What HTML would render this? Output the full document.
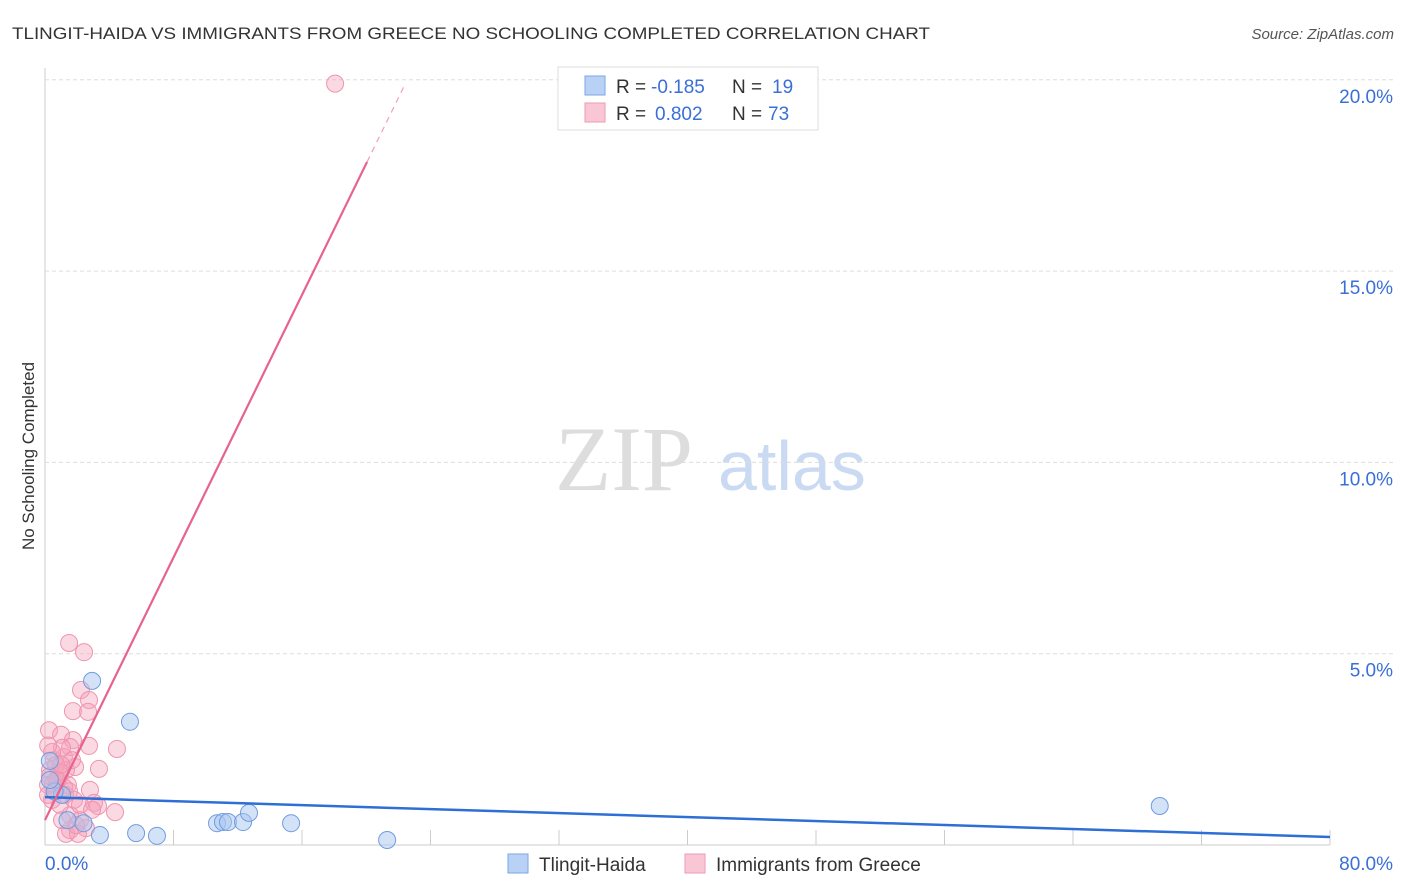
<!DOCTYPE html>
<html><head><meta charset="utf-8"><style>
body{margin:0;background:#fff;font-family:"Liberation Sans",sans-serif}
svg{display:block}
</style></head><body>
<svg width="1406" height="892">
<text x="12" y="39" font-size="17" fill="#333" textLength="918" lengthAdjust="spacingAndGlyphs">TLINGIT-HAIDA VS IMMIGRANTS FROM GREECE NO SCHOOLING COMPLETED CORRELATION CHART</text>
<text x="1394" y="39" font-size="15" fill="#555" font-style="italic" text-anchor="end">Source: ZipAtlas.com</text>
<text x="34" y="456" font-size="17" fill="#333" text-anchor="middle" transform="rotate(-90 34 456)">No Schooling Completed</text>
<text x="555" y="490" font-size="92" fill="#ddd" font-family="Liberation Serif">ZIP</text>
<text x="718" y="490" font-size="70" fill="#c9daf2">atlas</text>
<g id="grid"></g><g id="pts"></g><g id="lines"></g>
<g>
<rect x="558" y="67" width="260" height="63" fill="#fff" stroke="#ddd"/>
<rect x="585" y="76" width="20" height="19" fill="#b9d1f5" stroke="#7aa6e6"/>
<rect x="585" y="103" width="20" height="19" fill="#f8c6d4" stroke="#ef9ab3"/>
<text y="93" font-size="19" fill="#333"><tspan x="616">R =</tspan><tspan x="651" fill="#3a6fd6">-0.185</tspan><tspan x="732">N =</tspan><tspan x="772" fill="#3a6fd6">19</tspan></text>
<text y="120" font-size="19" fill="#333"><tspan x="616">R =</tspan><tspan x="655" fill="#3a6fd6">0.802</tspan><tspan x="732">N =</tspan><tspan x="768" fill="#3a6fd6">73</tspan></text>
</g>
<g>
<rect x="508" y="854" width="20" height="19" fill="#b9d1f5" stroke="#7aa6e6"/>
<text x="539" y="871" font-size="19" fill="#333">Tlingit-Haida</text>
<rect x="685" y="854" width="20" height="19" fill="#f8c6d4" stroke="#ef9ab3"/>
<text x="716" y="871" font-size="19" fill="#333">Immigrants from Greece</text>
</g>
</svg>
<script>
const yTicks=[5,10,15,20];
const xTickLabels=["0.0%","80.0%"];
const blueX=[2.93,5.29,1.06,3.42,5.67,6.97,10.71,11.08,11.39,12.33,12.70,15.32,21.3,69.4,0.3,0.6,1.4,2.4,0.3];
const blueY=[4.29,3.22,1.31,0.26,0.31,0.24,0.57,0.60,0.60,0.60,0.84,0.57,0.13,1.02,2.2,1.4,0.65,0.57,1.7];
const pinkX=[18.06,1.5,2.43,2.24,2.74,1.74,2.68,0.25,4.48,2.74,1.0,1.74,1.56,3.36,0.56,1.18,1.87,0.93,0.31,0.19,0.68,1.25,2.8,3.05,3.3,4.36,1.56,2.18,2.55,1.56,1.31,2.05,0.44,0.81,1.31,1.68,1.06,0.44,0.68,0.19,0.93,1.81,1.43,2.18,2.93,1.93,1.06,0.5,0.9,1.2,0.3,0.7,1.5,0.2,1.0];
const pinkY=[19.9,5.28,5.04,4.05,3.79,3.50,3.48,3.0,2.51,2.59,2.88,2.74,2.56,1.99,2.22,2.30,2.04,1.83,1.96,1.57,1.44,1.31,1.44,1.10,1.02,0.86,0.78,0.65,0.44,0.39,0.29,0.29,1.18,1.70,1.96,2.22,2.54,2.43,2.09,1.31,1.05,1.18,1.57,1.05,0.92,0.52,0.65,1.6,1.9,1.5,1.8,1.7,1.4,2.6,2.1];
const blueLine=[1.25,0.21];
const pinkLine=[0.65,0.858];
const sx=v=>45+v/80*1285, sy=v=>845-v*38.26;
const NS="http://www.w3.org/2000/svg";
function mk(t,a,p){const e=document.createElementNS(NS,t);for(const k in a)e.setAttribute(k,a[k]);p.appendChild(e);return e;}
const g=document.getElementById('grid');
mk('line',{x1:45,y1:68,x2:45,y2:845,stroke:'#ccc'},g);
mk('line',{x1:45,y1:845,x2:1330,y2:845,stroke:'#ccc'},g);
for(let i=1;i<=10;i++){const x=sx(i*8);mk('line',{x1:x,y1:830,x2:x,y2:845,stroke:'#ccc'},g);}
yTicks.forEach(v=>{
const l=mk('line',{x1:45,y1:sy(v),x2:1394,y2:sy(v),stroke:'#ddd','stroke-dasharray':'4,3'},g);


const t=mk('text',{x:1393,y:sy(v)+23,'font-size':19,fill:'#3a6fd6','text-anchor':'end'},g);t.textContent=v.toFixed(1)+'%';


});
const t0=mk('text',{x:45,y:870,'font-size':19,fill:'#3a6fd6'},g);t0.textContent=xTickLabels[0];


const t1=mk('text',{x:1393,y:870,'font-size':19,fill:'#3a6fd6','text-anchor':'end'},g);t1.textContent=xTickLabels[1];


const p=document.getElementById('pts');
pinkX.forEach((x,i)=>{const c=mk('circle',{cx:sx(x),cy:sy(pinkY[i]),r:8.5,fill:'rgba(244,160,186,0.4)',stroke:'#ef94b0','stroke-width':1},p);

});
blueX.forEach((x,i)=>{const c=mk('circle',{cx:sx(x),cy:sy(blueY[i]),r:8.5,fill:'rgba(170,198,240,0.5)',stroke:'#6f9de0','stroke-width':1},p);

});
const L=document.getElementById('lines');
const bl=mk('line',{x1:sx(0),y1:sy(blueLine[0]),x2:sx(80),y2:sy(blueLine[1]),stroke:'#2d6fd6','stroke-width':2.5},L);


const xe=20.05,xd=22.4;
const pl=mk('line',{x1:sx(0),y1:sy(pinkLine[0]),x2:sx(xe),y2:sy(pinkLine[0]+pinkLine[1]*xe),stroke:'#e8628e','stroke-width':2.2},L);


const pd=mk('line',{x1:sx(xe),y1:sy(pinkLine[0]+pinkLine[1]*xe),x2:sx(xd),y2:sy(pinkLine[0]+pinkLine[1]*xd),stroke:'#f0a0b8','stroke-width':1.2,'stroke-dasharray':'6,5'},L);


</script>
</body></html>
